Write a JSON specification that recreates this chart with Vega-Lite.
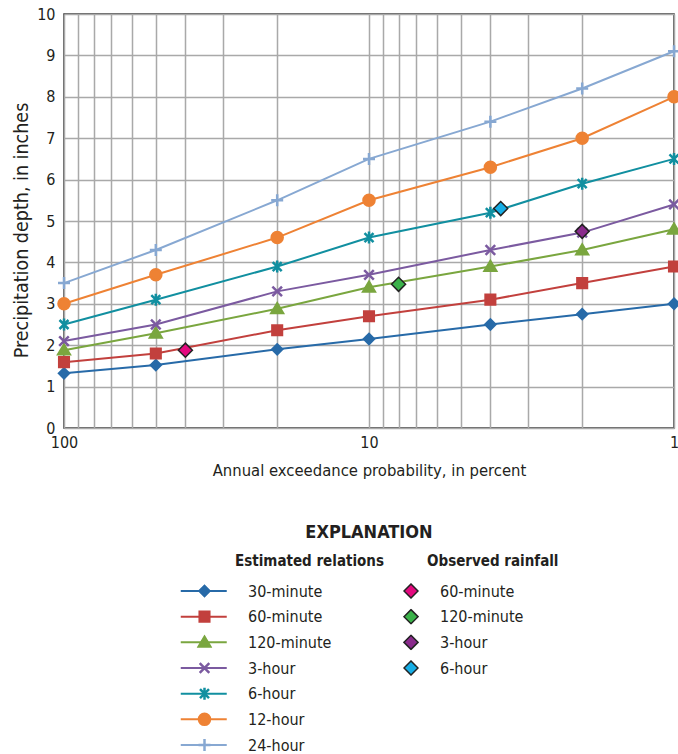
{
  "$schema": "https://vega.github.io/schema/vega-lite/v6.json",
  "width": 610,
  "height": 414,
  "autosize": {"type": "none"},
  "padding": {"left": 64, "top": 14, "right": 4, "bottom": 326},
  "config": {
    "font": "DejaVu Sans Condensed, sans-serif",
    "view": {"stroke": "#333333", "strokeWidth": 1.5},
    "axis": {
      "gridColor": "#a9a9a9",
      "gridWidth": 1.5,
      "gridOpacity": 1,
      "domain": false,
      "ticks": false,
      "labelColor": "#231f20",
      "titleColor": "#231f20",
      "labelFontSize": 16,
      "titleFontSize": 16.5,
      "titleFontWeight": "normal"
    },
    "legend": {
      "labelColor": "#231f20",
      "titleColor": "#231f20",
      "labelFontSize": 16,
      "titleFontSize": 15,
      "titleFontWeight": "bold",
      "orient": "none",
      "legendY": 539.5,
      "padding": 0,
      "clipHeight": 16,
      "rowPadding": 9.67,
      "titlePadding": 15
    }
  },
  "title": {
    "text": "EXPLANATION",
    "orient": "top",
    "anchor": "middle",
    "offset": 0,
    "dy": 536,
    "fontSize": 18,
    "fontWeight": "bold",
    "color": "#231f20"
  },
  "datasets": {
    "est": [
      {"series": "30-minute", "aep": 100, "depth": 1.32},
      {"series": "30-minute", "aep": 50, "depth": 1.52},
      {"series": "30-minute", "aep": 20, "depth": 1.9},
      {"series": "30-minute", "aep": 10, "depth": 2.15},
      {"series": "30-minute", "aep": 4, "depth": 2.5},
      {"series": "30-minute", "aep": 2, "depth": 2.75},
      {"series": "30-minute", "aep": 1, "depth": 3.0},
      {"series": "60-minute", "aep": 100, "depth": 1.59},
      {"series": "60-minute", "aep": 50, "depth": 1.8},
      {"series": "60-minute", "aep": 20, "depth": 2.36},
      {"series": "60-minute", "aep": 10, "depth": 2.7},
      {"series": "60-minute", "aep": 4, "depth": 3.1},
      {"series": "60-minute", "aep": 2, "depth": 3.5},
      {"series": "60-minute", "aep": 1, "depth": 3.9},
      {"series": "120-minute", "aep": 100, "depth": 1.88},
      {"series": "120-minute", "aep": 50, "depth": 2.29},
      {"series": "120-minute", "aep": 20, "depth": 2.88},
      {"series": "120-minute", "aep": 10, "depth": 3.4},
      {"series": "120-minute", "aep": 4, "depth": 3.9},
      {"series": "120-minute", "aep": 2, "depth": 4.3},
      {"series": "120-minute", "aep": 1, "depth": 4.8},
      {"series": "3-hour", "aep": 100, "depth": 2.1},
      {"series": "3-hour", "aep": 50, "depth": 2.5},
      {"series": "3-hour", "aep": 20, "depth": 3.3},
      {"series": "3-hour", "aep": 10, "depth": 3.7},
      {"series": "3-hour", "aep": 4, "depth": 4.3},
      {"series": "3-hour", "aep": 2, "depth": 4.72},
      {"series": "3-hour", "aep": 1, "depth": 5.4},
      {"series": "6-hour", "aep": 100, "depth": 2.5},
      {"series": "6-hour", "aep": 50, "depth": 3.1},
      {"series": "6-hour", "aep": 20, "depth": 3.9},
      {"series": "6-hour", "aep": 10, "depth": 4.6},
      {"series": "6-hour", "aep": 4, "depth": 5.2},
      {"series": "6-hour", "aep": 2, "depth": 5.9},
      {"series": "6-hour", "aep": 1, "depth": 6.5},
      {"series": "12-hour", "aep": 100, "depth": 3.0},
      {"series": "12-hour", "aep": 50, "depth": 3.7},
      {"series": "12-hour", "aep": 20, "depth": 4.6},
      {"series": "12-hour", "aep": 10, "depth": 5.5},
      {"series": "12-hour", "aep": 4, "depth": 6.3},
      {"series": "12-hour", "aep": 2, "depth": 7.0},
      {"series": "12-hour", "aep": 1, "depth": 8.0},
      {"series": "24-hour", "aep": 100, "depth": 3.5},
      {"series": "24-hour", "aep": 50, "depth": 4.3},
      {"series": "24-hour", "aep": 20, "depth": 5.5},
      {"series": "24-hour", "aep": 10, "depth": 6.5},
      {"series": "24-hour", "aep": 4, "depth": 7.4},
      {"series": "24-hour", "aep": 2, "depth": 8.2},
      {"series": "24-hour", "aep": 1, "depth": 9.1}
    ],
    "obs": [
      {"obs": "60-minute", "aep": 40, "depth": 1.88},
      {"obs": "120-minute", "aep": 8, "depth": 3.47},
      {"obs": "3-hour", "aep": 2, "depth": 4.75},
      {"obs": "6-hour", "aep": 3.7, "depth": 5.3}
    ]
  },
  "encoding": {
    "x": {
      "field": "aep",
      "type": "quantitative",
      "scale": {"type": "log", "domain": [1, 100], "reverse": true, "nice": false},
      "axis": {
        "title": "Annual exceedance probability, in percent",
        "values": [100, 90, 80, 70, 60, 50, 40, 30, 20, 10, 9, 8, 7, 6, 5, 4, 3, 2, 1],
        "format": "d",
        "labelExpr": "(datum.value == 100 || datum.value == 10 || datum.value == 1) ? datum.label : ''",
        "labelOverlap": false,
        "labelFlush": false,
        "labelPadding": 6,
        "titlePadding": 12
      }
    },
    "y": {
      "field": "depth",
      "type": "quantitative",
      "scale": {"domain": [0, 10], "nice": false},
      "axis": {
        "title": "Precipitation depth, in inches",
        "titleFontSize": 19.5,
        "titleY": 216,
        "values": [0, 1, 2, 3, 4, 5, 6, 7, 8, 9, 10],
        "labelPadding": 9,
        "titlePadding": 5
      }
    }
  },
  "layer": [
    {
      "data": {"name": "est"},
      "mark": {"type": "line", "strokeWidth": 2},
      "encoding": {
        "stroke": {
          "field": "series",
          "type": "nominal",
          "scale": {
            "domain": ["30-minute", "60-minute", "120-minute", "3-hour", "6-hour", "12-hour", "24-hour"],
            "range": ["#276aa8", "#c2403d", "#7aa63f", "#7b5aa0", "#118fa0", "#ee8234", "#87a8d2"]
          },
          "legend": {
            "title": null,
            "labelExpr": "''",
            "legendX": 115.75,
            "legendY": 569,
            "symbolType": "stroke",
            "symbolSize": 2116,
            "symbolStrokeWidth": 2,
            "labelOffset": 0
          }
        }
      }
    },
    {
      "data": {"name": "est"},
      "mark": {"type": "point", "filled": true, "size": 144, "strokeWidth": 2.5, "opacity": 1},
      "encoding": {
        "fill": {
          "field": "series",
          "type": "nominal",
          "scale": {
            "domain": ["30-minute", "60-minute", "120-minute", "3-hour", "6-hour", "12-hour", "24-hour"],
            "range": ["#276aa8", "#c2403d", "#7aa63f", "#7b5aa0", "#118fa0", "#ee8234", "#87a8d2"]
          },
          "legend": {
            "title": null,
            "labelExpr": "''",
            "legendX": 132.5,
            "legendY": 569,
            "symbolSize": 144,
            "symbolStrokeWidth": 2.5,
            "labelOffset": 0
          }
        },
        "stroke": {
          "field": "series",
          "type": "nominal",
          "scale": {
            "domain": ["30-minute", "60-minute", "120-minute", "3-hour", "6-hour", "12-hour", "24-hour"],
            "range": ["#276aa8", "#c2403d", "#7aa63f", "#7b5aa0", "#118fa0", "#ee8234", "#87a8d2"]
          },
          "legend": {"title": null}
        },
        "shape": {
          "field": "series",
          "type": "nominal",
          "scale": {
            "domain": ["30-minute", "60-minute", "120-minute", "3-hour", "6-hour", "12-hour", "24-hour"],
            "range": ["M-0.82,0L0,-0.82L0.82,0L0,0.82Z", "M-0.8,-0.8L0.8,-0.8L0.8,0.8L-0.8,0.8Z", "M0,-0.9L0.95,0.7L-0.95,0.7Z", "M-0.8,-0.8L0.8,0.8M-0.8,0.8L0.8,-0.8", "M-0.75,-0.75L0.75,0.75M-0.75,0.75L0.75,-0.75M0,-1L0,1", "M0.92,0A0.92,0.92,0,1,1,-0.92,0A0.92,0.92,0,1,1,0.92,0Z", "M-1,0L1,0M0,-1L0,1"]
          },
          "legend": {"title": null}
        }
      }
    },
    {
      "data": {"name": "est"},
      "mark": {"type": "point", "filled": true, "opacity": 0},
      "encoding": {
        "fill": {
          "field": "series",
          "type": "nominal",
          "scale": {
            "domain": ["30-minute", "60-minute", "120-minute", "3-hour", "6-hour", "12-hour", "24-hour"],
            "range": ["#276aa8", "#c2403d", "#7aa63f", "#7b5aa0", "#118fa0", "#ee8234", "#87a8d2"]
          },
          "legend": {
            "title": "Estimated relations",
            "legendX": 171,
            "symbolSize": 4,
            "symbolStrokeWidth": 0,
            "symbolOpacity": 0,
            "labelOffset": -3
          }
        }
      }
    },
    {
      "data": {"name": "obs"},
      "mark": {"type": "point", "shape": "diamond", "filled": true, "size": 196, "stroke": "#222222", "strokeWidth": 1.5, "opacity": 1},
      "encoding": {
        "fill": {
          "field": "obs",
          "type": "nominal",
          "scale": {
            "domain": ["60-minute", "120-minute", "3-hour", "6-hour"],
            "range": ["#e4097f", "#3bb24a", "#8a2b8c", "#16aee6"]
          },
          "legend": {
            "title": null,
            "labelExpr": "''",
            "legendX": 339,
            "legendY": 569,
            "symbolSize": 196,
            "symbolStrokeWidth": 1.5,
            "symbolStrokeColor": "#222222",
            "labelOffset": 0
          }
        }
      }
    },
    {
      "data": {"name": "obs"},
      "mark": {"type": "point", "filled": true, "opacity": 0},
      "encoding": {
        "fill": {
          "field": "obs",
          "type": "nominal",
          "scale": {
            "domain": ["60-minute", "120-minute", "3-hour", "6-hour"],
            "range": ["#e4097f", "#3bb24a", "#8a2b8c", "#16aee6"]
          },
          "legend": {
            "title": "Observed rainfall",
            "legendX": 363,
            "symbolSize": 4,
            "symbolStrokeWidth": 0,
            "symbolOpacity": 0,
            "labelOffset": -3
          }
        }
      }
    }
  ],
  "resolve": {"scale": {"fill": "independent", "stroke": "independent", "shape": "independent"}}
}
